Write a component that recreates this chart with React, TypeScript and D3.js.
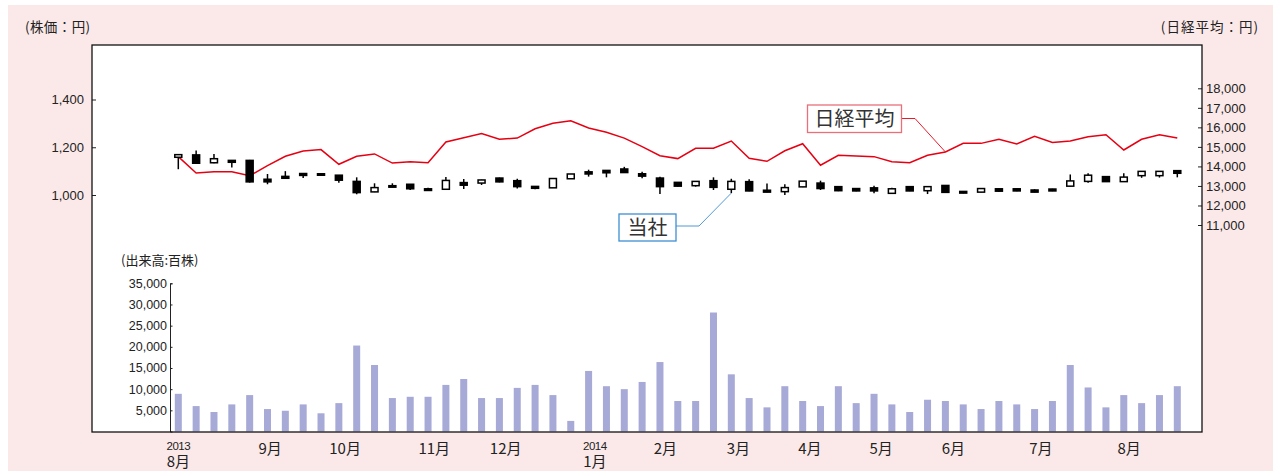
import * as d3 from "d3";
import { useEffect, useRef } from "react";

// weekly data, Aug 2013 - Aug 2014 (57 weeks)
const priceOpen = [
  1158, 1168, 1135, 1145, 1145, 1066, 1078, 1090, 1089, 1083, 1057, 1013, 1039, 1045, 1026,
  1024, 1052, 1050, 1071, 1060, 1036, 1030, 1068, 1097, 1103, 1109, 1089, 1071, 1053, 1039,
  1060, 1024, 1056, 1020, 1014, 1034, 1050, 1035, 1027, 1030, 1007, 1035, 1018, 1040, 1015,
  1012, 1026, 1026, 1021, 1025, 1037, 1057, 1077, 1056, 1081, 1081, 1102,
];
const priceHigh = [
  1170, 1186, 1172, 1147, 1147, 1088, 1100, 1091, 1090, 1084, 1074, 1049, 1049, 1046, 1030,
  1075, 1067, 1064, 1073, 1068, 1037, 1069, 1088, 1106, 1104, 1118, 1097, 1076, 1054, 1057,
  1074, 1068, 1066, 1048, 1045, 1058, 1060, 1036, 1028, 1039, 1030, 1036, 1036, 1041, 1017,
  1027, 1027, 1027, 1024, 1026, 1086, 1091, 1078, 1091, 1100, 1100, 1104,
];
const priceLow = [
  1108, 1131, 1133, 1115, 1052, 1045, 1069, 1071, 1081, 1051, 1003, 1012, 1032, 1021, 1017,
  1023, 1025, 1042, 1053, 1027, 1024, 1030, 1068, 1077, 1074, 1093, 1070, 1004, 1036, 1035,
  1021, 1008, 1016, 1011, 1000, 1033, 1021, 1016, 1016, 1007, 1004, 1016, 1004, 1009, 1007,
  1011, 1014, 1016, 1011, 1016, 1036, 1051, 1055, 1055, 1072, 1073, 1074,
];
const priceClose = [
  1169, 1133, 1152, 1137, 1055, 1055, 1070, 1082, 1083, 1062, 1010, 1031, 1033, 1026, 1019,
  1061, 1041, 1063, 1055, 1035, 1028, 1069, 1088, 1088, 1093, 1094, 1079, 1035, 1037, 1057,
  1032, 1057, 1017, 1012, 1031, 1058, 1027, 1018, 1017, 1017, 1026, 1017, 1035, 1011, 1008,
  1027, 1016, 1017, 1012, 1017, 1059, 1083, 1056, 1075, 1099, 1099, 1091,
];
const nikkei = [
  14500, 13660, 13730, 13730, 13520, 14040, 14520, 14790, 14860, 14110, 14520, 14640, 14170,
  14240, 14190, 15250, 15470, 15680, 15390, 15450, 15930, 16210, 16340, 15970, 15750, 15450,
  15010, 14550, 14400, 14930, 14930, 15300, 14420, 14260, 14800, 15160, 14060, 14570, 14530,
  14500, 14240, 14190, 14570, 14740, 15180, 15180, 15390, 15150, 15540, 15230, 15300, 15520,
  15620, 14840, 15390, 15620, 15450,
];
// 出来高 (百株)
const volume = [
  8900, 6000, 4600, 6400, 8600, 5300, 4900, 6400, 4300, 6700,
  20300, 15700, 7900, 8200, 8200, 11000, 12400, 7900, 7900, 10300,
  11000, 8600, 2500, 14300, 10700, 10000, 11700, 16400, 7200, 7200,
  28100, 13500, 7900, 5700, 10700, 7200, 6000, 10700, 6700, 8900,
  6400, 4600, 7500, 7200, 6400, 5300, 7200, 6400, 5300, 7200,
  15700, 10400, 5700, 8600, 6700, 8600, 10700,
];

const priceTicks = [1000, 1200, 1400];
const nikkeiTicks = [11000, 12000, 13000, 14000, 15000, 16000, 17000, 18000];
const volumeTicks = [5000, 10000, 15000, 20000, 25000, 30000, 35000];

// month labels, position in week index
const monthPos = [0, 5.15, 9.35, 14.35, 18.35, 23.35, 27.3, 31.4, 35.4, 39.4, 43.45, 48.35, 53.3];
const monthLabels = ["8月", "9月", "10月", "11月", "12月", "1月", "2月", "3月", "4月", "5月", "6月", "7月", "8月"];
const yearLabels = ["2013", "", "", "", "", "2014", "", "", "", "", "", "", ""];

const JP = "'Noto Sans CJK JP', 'Noto Sans', sans-serif";
const NUM = "'Liberation Sans', Arial, sans-serif";

const App = () => {
  const svgRef = useRef<SVGSVGElement | null>(null);

  useEffect(() => {
    const width = 1273;
    const height = 471;
    const frame = { left: 92, top: 45, right: 1202, bottom: 432 };

    const x = d3.scaleLinear().domain([0, 56]).range([178.3, 1177.3]);
    const yPrice = d3.scaleLinear().domain([1000, 1400]).range([195, 99.5]);
    const yNikkei = d3.scaleLinear().domain([11000, 18000]).range([225, 88.3]);
    const yVol = d3.scaleLinear().domain([0, 35000]).range([431.5, 283.3]);

    const svg = d3.select(svgRef.current);
    svg.selectAll("*").remove();

    svg
      .append("rect")
      .attr("x", 8)
      .attr("y", 5)
      .attr("width", width - 8)
      .attr("height", height - 5)
      .attr("fill", "#fbe9e9");

    svg
      .append("rect")
      .attr("x", frame.left)
      .attr("y", frame.top)
      .attr("width", frame.right - frame.left)
      .attr("height", frame.bottom - frame.top)
      .attr("fill", "#fff");

    // volume bars
    svg
      .append("g")
      .selectAll("rect")
      .data(volume)
      .join("rect")
      .attr("x", (d, i) => x(i) - 3.5)
      .attr("y", (d) => yVol(d))
      .attr("width", 7)
      .attr("height", (d) => yVol(0) - yVol(d))
      .attr("fill", "#a7a9d6");

    // axes
    const styleAxis = (g: d3.Selection<SVGGElement, unknown, null, undefined>, size: number) => {
      g.selectAll("text")
        .attr("font-family", NUM)
        .attr("font-size", size)
        .attr("fill", "#222");
      g.selectAll("line").attr("stroke", "#222");
    };

    const priceAxis = svg
      .append("g")
      .attr("transform", `translate(${frame.left},0)`)
      .call(
        d3
          .axisLeft(yPrice)
          .tickValues(priceTicks)
          .tickFormat(d3.format(","))
          .tickSizeInner(-4)
          .tickSizeOuter(0)
          .tickPadding(8)
      );
    priceAxis.select(".domain").remove();
    styleAxis(priceAxis, 13);

    const nikkeiAxis = svg
      .append("g")
      .attr("transform", `translate(${frame.right},0)`)
      .call(
        d3
          .axisRight(yNikkei)
          .tickValues(nikkeiTicks)
          .tickFormat(d3.format(","))
          .tickSizeInner(-4)
          .tickSizeOuter(0)
          .tickPadding(4)
      );
    nikkeiAxis.select(".domain").remove();
    styleAxis(nikkeiAxis, 13);

    const volAxis = svg
      .append("g")
      .attr("transform", "translate(170,0)")
      .call(
        d3
          .axisLeft(yVol)
          .tickValues(volumeTicks)
          .tickFormat(d3.format(","))
          .tickSizeInner(-2.5)
          .tickSizeOuter(-2.5)
          .tickPadding(3)
      );
    volAxis.select(".domain").attr("stroke", "#222").attr("fill", "none");
    styleAxis(volAxis, 12.5);

    // frame border on top of bars
    svg
      .append("rect")
      .attr("x", frame.left)
      .attr("y", frame.top)
      .attr("width", frame.right - frame.left)
      .attr("height", frame.bottom - frame.top)
      .attr("fill", "none")
      .attr("stroke", "#111")
      .attr("stroke-width", 1.3);

    // nikkei line
    const line = d3
      .line<number>()
      .x((d, i) => x(i))
      .y((d) => yNikkei(d));
    svg
      .append("path")
      .datum(nikkei)
      .attr("fill", "none")
      .attr("stroke", "#e60012")
      .attr("stroke-width", 1.5)
      .attr("d", line);

    // candlesticks
    const candles = svg
      .append("g")
      .selectAll("g")
      .data(priceOpen.map((o, i) => ({ i, o, h: priceHigh[i], l: priceLow[i], c: priceClose[i] })))
      .join("g");
    candles
      .append("line")
      .attr("x1", (d) => x(d.i))
      .attr("x2", (d) => x(d.i))
      .attr("y1", (d) => yPrice(d.h))
      .attr("y2", (d) => yPrice(d.l))
      .attr("stroke", "#000")
      .attr("stroke-width", 1.5);
    candles
      .append("rect")
      .attr("x", (d) => x(d.i) - 3.5)
      .attr("y", (d) => yPrice(Math.max(d.o, d.c)))
      .attr("width", 7)
      .attr("height", (d) => Math.max(1.5, Math.abs(yPrice(d.o) - yPrice(d.c))))
      .attr("fill", (d) => (d.c >= d.o ? "#fff" : "#000"))
      .attr("stroke", "#000")
      .attr("stroke-width", 1.5);

    // callouts
    const nIdx = 43;
    svg
      .append("polyline")
      .attr("points", `901.7,118.5 915,118.5 ${x(nIdx)},${yNikkei(nikkei[nIdx])}`)
      .attr("fill", "none")
      .attr("stroke", "#e60012")
      .attr("stroke-width", 0.9);
    svg
      .append("rect")
      .attr("x", 807.5)
      .attr("y", 105)
      .attr("width", 94)
      .attr("height", 27.5)
      .attr("fill", "#fff")
      .attr("stroke", "#e9707a")
      .attr("stroke-width", 1.3);
    svg
      .append("text")
      .attr("x", 854.5)
      .attr("y", 126)
      .attr("text-anchor", "middle")
      .attr("font-family", JP)
      .attr("font-size", 20)
      .attr("fill", "#333")
      .text("日経平均");

    const cIdx = 31;
    svg
      .append("polyline")
      .attr("points", `676,226 699,226 ${x(cIdx)},${yPrice(priceLow[cIdx])}`)
      .attr("fill", "none")
      .attr("stroke", "#3d8fd1")
      .attr("stroke-width", 0.9);
    svg
      .append("rect")
      .attr("x", 619)
      .attr("y", 214)
      .attr("width", 57)
      .attr("height", 27)
      .attr("fill", "#fff")
      .attr("stroke", "#3d8fd1")
      .attr("stroke-width", 1.3);
    svg
      .append("text")
      .attr("x", 647.5)
      .attr("y", 234.5)
      .attr("text-anchor", "middle")
      .attr("font-family", JP)
      .attr("font-size", 20)
      .attr("fill", "#333")
      .text("当社");

    // axis titles
    const title = (tx: number, ty: number, s: string, size: number, spacing: number, anchor = "start") =>
      svg
        .append("text")
        .attr("x", tx)
        .attr("y", ty)
        .attr("text-anchor", anchor)
        .attr("font-family", JP)
        .attr("font-size", size)
        .attr("letter-spacing", spacing)
        .attr("fill", "#222")
        .text(s);
    title(25, 32, "(株価：円)", 13.5, 0.4);
    title(1259, 32, "(日経平均：円)", 13.5, 1, "end");
    title(121, 265, "(出来高:百株)", 13, 0);

    // month labels
    const months = svg.append("g").selectAll("g").data(monthPos).join("g");
    months
      .append("text")
      .attr("x", (d) => x(d))
      .attr("y", (d, i) => (yearLabels[i] ? 466.5 : 454))
      .attr("text-anchor", "middle")
      .attr("font-family", JP)
      .attr("font-size", 15)
      .attr("fill", "#222")
      .text((d, i) => monthLabels[i]);
    months
      .filter((d, i) => yearLabels[i] !== "")
      .append("text")
      .attr("x", (d) => x(d))
      .attr("y", 450)
      .attr("text-anchor", "middle")
      .attr("font-family", NUM)
      .attr("font-size", 11.5)
      .attr("letter-spacing", -0.5)
      .attr("fill", "#222")
      .text((d) => yearLabels[monthPos.indexOf(d)]);
  }, []);

  return (
    <svg
      height={471}
      ref={svgRef}
      style={{ position: "absolute", left: 0, top: 0 }}
      width={1273}
    ></svg>
  );
};

export default App;
